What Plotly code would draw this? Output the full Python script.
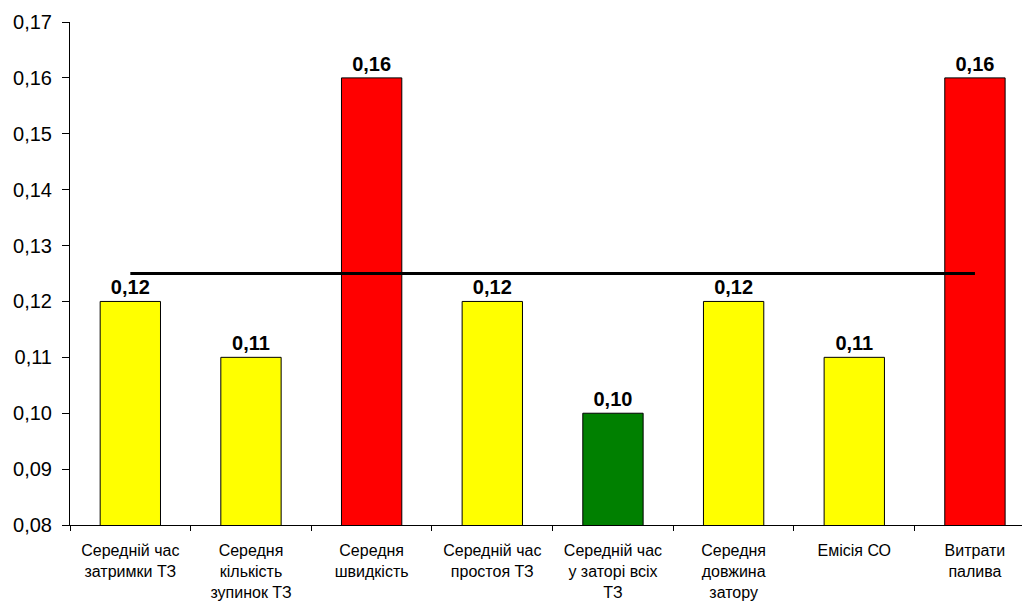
import plotly.graph_objects as go

categories = [
    "Середній час<br>затримки ТЗ",
    "Середня<br>кількість<br>зупинок ТЗ",
    "Середня<br>швидкість",
    "Середній час<br>простоя ТЗ",
    "Середній час<br>у заторі всіх<br>ТЗ",
    "Середня<br>довжина<br>затору",
    "Емісія СО",
    "Витрати<br>палива",
]
values = [0.12, 0.11, 0.16, 0.12, 0.10, 0.12, 0.11, 0.16]
colors = ["#FFFF00", "#FFFF00", "#FF0000", "#FFFF00", "#008000", "#FFFF00", "#FFFF00", "#FF0000"]
mean_level = 0.125

FONT = "Arial, Liberation Sans, sans-serif"

fig = go.Figure()
fig.add_trace(go.Bar(
    x=categories, y=values,
    marker=dict(color=colors, line=dict(color="#000000", width=1)),
    width=0.5,
    text=[f"{v:.2f}".replace(".", ",") for v in values],
    textposition="outside",
    constraintext="none",
    textfont=dict(family=FONT, size=20, color="#000000", weight="bold"),
    cliponaxis=False,
    showlegend=False,
))
fig.add_trace(go.Scatter(
    x=[categories[0], categories[-1]], y=[mean_level, mean_level],
    mode="lines", line=dict(color="#000000", width=3),
    showlegend=False,
))
fig.update_layout(
    width=1022, height=605,
    margin=dict(l=70, r=0, t=22, b=80),
    plot_bgcolor="white", paper_bgcolor="white",
    separators=", ",
    font=dict(family=FONT, size=16, color="#000000"),
    bargap=0.5,
)
fig.update_yaxes(
    range=[0.08, 0.17], dtick=0.01, tickformat=".2f",
    showgrid=False, zeroline=False,
    showline=True, linecolor="#000000", linewidth=1,
    ticks="outside", ticklen=7, tickcolor="#000000",
    tickfont=dict(size=20), ticklabelstandoff=6, automargin=False,
)
fig.update_xaxes(
    range=[-0.5, 7.39],
    showgrid=False, showline=True, linecolor="#000000", linewidth=1,
    ticks="outside", ticklen=5, tickcolor="#000000", tickson="boundaries",
    tickfont=dict(size=16), tickangle=0, automargin=False, ticklabelstandoff=11,
)
fig.write_html("out.html")
